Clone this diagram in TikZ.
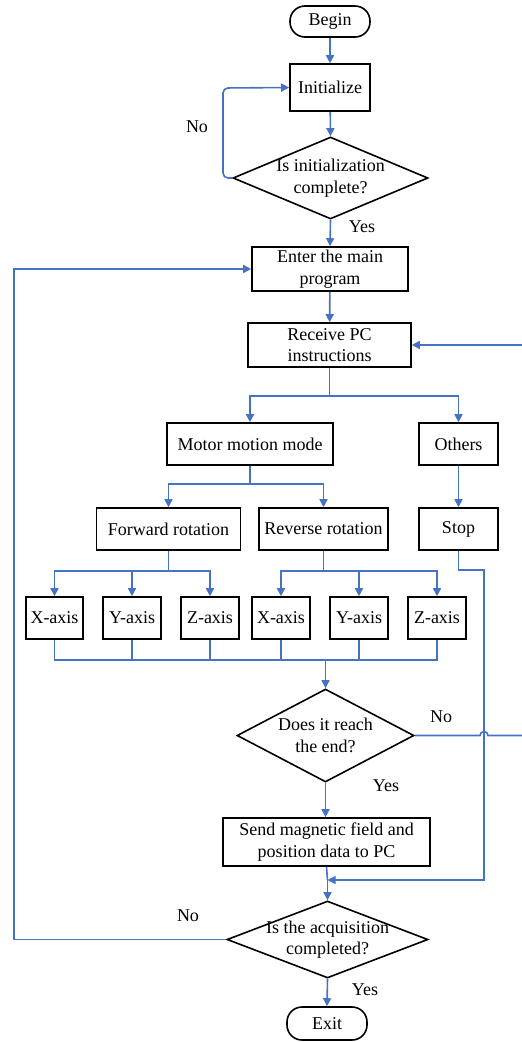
\documentclass[tikz,border=0pt]{standalone}
\usepackage{fontspec}
\setmainfont{Liberation Serif}
\usetikzlibrary{shapes.geometric,arrows.meta}
\definecolor{lblue}{RGB}{68,114,196}
\begin{document}
\begin{tikzpicture}[x=1pt,y=-1pt,
  every node/.style={font=\fontsize{18}{21.5}\selectfont},
  box/.style={draw=black,line width=1.6pt,rectangle,inner sep=0pt,align=center},
  term/.style={box,rounded corners=15pt},
  dia/.style={draw=black,line width=1.6pt,diamond,inner sep=0pt},
  dtext/.style={align=center,inner sep=0pt},
  lab/.style={inner sep=0pt},
  line/.style={draw=lblue,line width=1.6pt},
  conn/.style={line,-{Triangle[length=8pt,width=8pt]}}]
\useasboundingbox (0,0) rectangle (522,1042);
% nodes
\node[term,minimum width=80pt,minimum height=31pt] (begin) at (330,21.5) {Begin};
\node[box,minimum width=80pt,minimum height=47pt] (init) at (330,87.5) {Initialize};
\node[dia,minimum width=195pt,minimum height=82pt] (d1) at (330.5,178) {};
\node[dtext] (d1t) at (330.5,178) {Is initialization\\complete?};
\node[box,minimum width=156pt,minimum height=44pt] (enter) at (330,269) {Enter the main\\program};
\node[box,minimum width=163pt,minimum height=44pt] (rcv) at (329.5,345) {Receive PC\\instructions};
\node[box,minimum width=166pt,minimum height=42pt] (motor) at (250,444) {Motor motion mode};
\node[box,minimum width=79pt,minimum height=42pt] (others) at (458.5,444) {Others};
\node[box,minimum width=144pt,minimum height=42pt] (fwd) at (168.5,529) {Forward rotation};
\node[box,minimum width=129pt,minimum height=42pt] (rev) at (323.5,529) {Reverse rotation};
\node[box,minimum width=79pt,minimum height=42pt] (stop) at (458.5,529) {Stop};
\node[box,minimum width=57pt,minimum height=42pt] (x1) at (54.5,618) {X-axis};
\node[box,minimum width=58pt,minimum height=42pt] (y1) at (132,618) {Y-axis};
\node[box,minimum width=58pt,minimum height=42pt] (z1) at (210,618) {Z-axis};
\node[box,minimum width=58pt,minimum height=42pt] (x2) at (281,618) {X-axis};
\node[box,minimum width=58pt,minimum height=42pt] (y2) at (359,618) {Y-axis};
\node[box,minimum width=58pt,minimum height=42pt] (z2) at (437,618) {Z-axis};
\node[dia,minimum width=177pt,minimum height=93pt] (d2) at (325.5,735.5) {};
\node[dtext] (d2t) at (325.5,735.5) {Does it reach\\the end?};
\node[box,minimum width=207pt,minimum height=48pt] (send) at (326.5,842) {Send magnetic field and\\position data to PC};
\node[dia,minimum width=201pt,minimum height=77pt] (d3) at (327.5,939.5) {};
\node[dtext] (d3t) at (327.5,939.5) {Is the acquisition\\completed?};
\node[term,minimum width=80pt,minimum height=33pt] (exit) at (327,1023.5) {Exit};
% labels
\node[lab] (no1) at (197,127) {No};
\node[lab] (yes1) at (362,227) {Yes};
\node[lab] (no2) at (441,717) {No};
\node[lab] (yes2) at (386,786) {Yes};
\node[lab] (no3) at (188,916) {No};
\node[lab] (yes3) at (365,990) {Yes};
% coordinates
\coordinate (s1) at (329.5,396);
\coordinate (s2) at (250,484);
\coordinate (s3) at (168.5,571);
\coordinate (s4) at (323.5,571);
\coordinate (m) at (325.5,660);
\coordinate (j) at (327.5,880);
% connectors
\draw[conn] (begin) -- (init);
\draw[conn] (init) -- (d1.north);
\draw[conn,rounded corners=5pt] (d1.west) -- (223,178) -- (223,88) -- (init.west);
\draw[conn] (d1.south) -- (enter.north);
\draw[conn] (enter) -- (rcv);
\draw[line] (rcv.south) -- (s1);
\draw[conn] (s1) -| (motor.north);
\draw[conn] (s1) -| (others.north);
\draw[line] (motor.south) -- (s2);
\draw[conn] (s2) -| (fwd.north);
\draw[conn] (s2) -| (rev.north);
\draw[conn] (others) -- (stop);
\draw[line] (fwd.south) -- (s3);
\draw[conn] (s3) -| (x1.north);
\draw[conn] (s3) -| (y1.north);
\draw[conn] (s3) -| (z1.north);
\draw[line] (rev.south) -- (s4);
\draw[conn] (s4) -| (x2.north);
\draw[conn] (s4) -| (y2.north);
\draw[conn] (s4) -| (z2.north);
\draw[line] (x1.south) |- (m);
\draw[line] (z2.south) |- (m);
\draw[line] (y1.south) -- (y1.south |- m);
\draw[line] (z1.south) -- (z1.south |- m);
\draw[line] (x2.south) -- (x2.south |- m);
\draw[line] (y2.south) -- (y2.south |- m);
\draw[conn] (m) -- (d2.north);
\draw[conn] (d2.south) -- (d2.south |- send.north);
\draw[line] (send.south) -- (j);
\draw[conn] (j) -- (d3.north);
\draw[conn] (stop.south) -- (458.5,570) -- (484,570) -- (484,880) -- (j);
\draw[conn] (d2.east) -- (480,735.5) arc (180:360:4) -- (524,735.5) -- (524,345) -- (rcv.east);
\draw[conn] (d3.west) -- (14,939.5) -- (14,269) -- (enter.west);
\draw[conn] (d3.south) -- (exit.north);
\end{tikzpicture}
\end{document}
